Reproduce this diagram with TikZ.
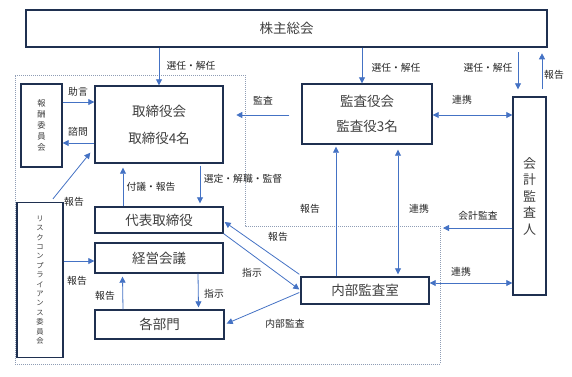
\documentclass[tikz,border=0pt]{standalone}
\usepackage{fontspec}
\setmainfont{Noto Sans CJK JP}
\usetikzlibrary{arrows.meta,calc}
\definecolor{navy}{HTML}{1F3050}
\definecolor{arrowblue}{HTML}{4472C4}
\definecolor{dotgray}{HTML}{8F9DB5}
\definecolor{txt}{HTML}{404040}
\begin{document}
\begin{tikzpicture}[x=1pt,y=-1pt,
  box/.style={draw=navy, line width=1.4pt, fill=white, inner sep=0pt, text=txt,
    font=\fontsize{13.5}{27}\selectfont, align=center},
  arr/.style={draw=arrowblue, line width=0.8pt, -{Triangle[length=6pt,width=6pt]}},
  darr/.style={draw=arrowblue, line width=0.8pt, {Triangle[length=6pt,width=6pt]}-{Triangle[length=6pt,width=6pt]}},
  lbl/.style={font=\fontsize{9.8}{10}\selectfont, text=black!85, inner sep=0pt},
  boundary/.style={draw=dotgray, line width=0.6pt, dash pattern=on 1pt off 1pt}]
\useasboundingbox (0,0) rectangle (572,376);

% dotted boundary
\coordinate (d1) at (15,75);
\coordinate (d2) at (245,75);
\coordinate (d3) at (245,226);
\coordinate (d4) at (440,226);
\coordinate (d5) at (440,364);
\coordinate (d6) at (15,364);
\draw[boundary] (d1) -- (d2) -- (d3) -- (d4) -- (d5) -- (d6) -- cycle;

% boxes
\node[box, minimum width=521pt, minimum height=37pt] (sh) at (286.5,28.5) {株主総会};
\node[box, minimum width=128pt, minimum height=77pt] (tb) at (159,124.5) {取締役会\\取締役4名};
\node[box, minimum width=130pt, minimum height=60pt] (ka) at (367,114) {監査役会\\[-2pt]監査役3名};
\node[box, minimum width=33pt, minimum height=198pt, font=\fontsize{13}{16.5}\selectfont] (ac) at (529.5,196) {会\\計\\監\\査\\人};
\node[box, minimum width=41pt, minimum height=83pt, font=\fontsize{8.3}{11}\selectfont] (rc) at (41.5,125.5) {報\\酬\\委\\員\\会};
\node[box, minimum width=46pt, minimum height=155pt, font=\fontsize{7.3}{9.4}\selectfont] (rk) at (40,280) {リ\\ス\\ク\\コ\\ン\\プ\\ラ\\イ\\ア\\ン\\ス\\委\\員\\会};
\node[box, minimum width=128pt, minimum height=26pt] (dt) at (159,220) {代表取締役};
\node[box, minimum width=128pt, minimum height=30pt] (km) at (159,258) {経営会議};
\node[box, minimum width=129pt, minimum height=29pt] (kb) at (159.5,324.5) {各部門};
\node[box, minimum width=128pt, minimum height=27pt] (na) at (365,290.5) {内部監査室};

% connectors
\draw[arr] (sh.south -| tb.north) -- (tb.north);
\node[lbl] (l1) at (191,66) {選任・解任};

\draw[arr] ([xshift=-5pt]ka.north |- sh.south) -- ([xshift=-5pt]ka.north);
\node[lbl] (l2) at (396,68) {選任・解任};

\draw[arr] ([xshift=-11.5pt,yshift=44pt]ac.north) -- ([xshift=-11.5pt,yshift=7pt]ac.north);
\node[lbl] (l3) at (488,68) {選任・解任};

\draw[arr] ([xshift=12.5pt,yshift=7pt]ac.north) -- ([xshift=12.5pt,yshift=43pt]ac.north);
\node[lbl] (l4) at (554,75) {報告};

\draw[darr] ([yshift=-1pt]ka.east) -- ([yshift=-1pt]ka.east -| ac.west);
\node[lbl] (l5) at (462,100) {連携};

\draw[arr] ([xshift=-12pt,yshift=-1pt]ka.west) -- ([xshift=-65pt,yshift=-1pt]ka.west);
\node[lbl] (l6) at (263,101) {監査};

\draw[arr] ([yshift=23.5pt]rc.east) -- ([yshift=23.5pt]rc.east -| tb.west);
\node[lbl] (l7) at (78,92) {助言};

\draw[arr] ([yshift=-18.5pt]tb.west) -- ([yshift=-18.5pt]tb.west -| rc.east);
\node[lbl] (l8) at (78,132) {諮問};

\draw[arr] ([xshift=13pt,yshift=3pt]rk.north) -- ([xshift=-4pt,yshift=11pt]tb.south west);
\node[lbl] (l9) at (74,202) {報告};

\draw[arr] ([yshift=-3pt]km.west -| rk.east) -- ([yshift=-3pt]km.west);
\node[lbl] (l10) at (77,281) {報告};

\draw[arr] ([xshift=-36pt]dt.north) -- ([xshift=-36pt,yshift=-4pt]tb.south);
\node[lbl] (l11) at (151,187) {付議・報告};

\draw[arr] ([xshift=41pt,yshift=-2pt]tb.south) -- ([xshift=41pt,yshift=3pt]dt.north);
\node[lbl] (l12) at (243,179) {選定・解職・監督};

\draw[arr] ([xshift=-36.5pt]kb.north) -- ([xshift=-36.5pt,yshift=-3pt]km.south);
\node[lbl] (l13) at (105,296) {報告};

\draw[arr] ([xshift=39pt]km.south) -- ([xshift=39pt,yshift=2pt]kb.north);
\node[lbl] (l14) at (214,294) {指示};

\draw[arr] ([xshift=-1pt,yshift=2pt]na.north west) -- ([xshift=1pt,yshift=-2pt]dt.east);
\node[lbl] (l15) at (278,237) {報告};

\draw[arr] (dt.south east) -- ([xshift=-1pt,yshift=1pt]na.west);
\node[lbl] (l16) at (252,273) {指示};

\draw[arr] ([xshift=-1pt,yshift=-2pt]na.west) -- ([xshift=2pt,yshift=1pt]kb.east);
\node[lbl] (l17) at (285,324) {内部監査};

\draw[arr] ([xshift=-29pt]na.north) -- ([xshift=-29pt,yshift=-2pt]na.north |- ka.south);
\node[lbl] (l18) at (310,209) {報告};

\draw[darr] ([xshift=33pt,yshift=-5pt]na.north |- ka.south) -- ([xshift=33pt,yshift=2pt]na.north);
\node[lbl] (l19) at (419,209) {連携};

\coordinate (caEnd) at (443,228);
\draw[arr] (caEnd -| ac.west) -- (caEnd);
\node[lbl] (l20) at (478,216) {会計監査};

\draw[darr] ([yshift=7.5pt]na.east) -- ([yshift=7.5pt]na.east -| ac.west);
\node[lbl] (l21) at (461,272) {連携};
\end{tikzpicture}
\end{document}
